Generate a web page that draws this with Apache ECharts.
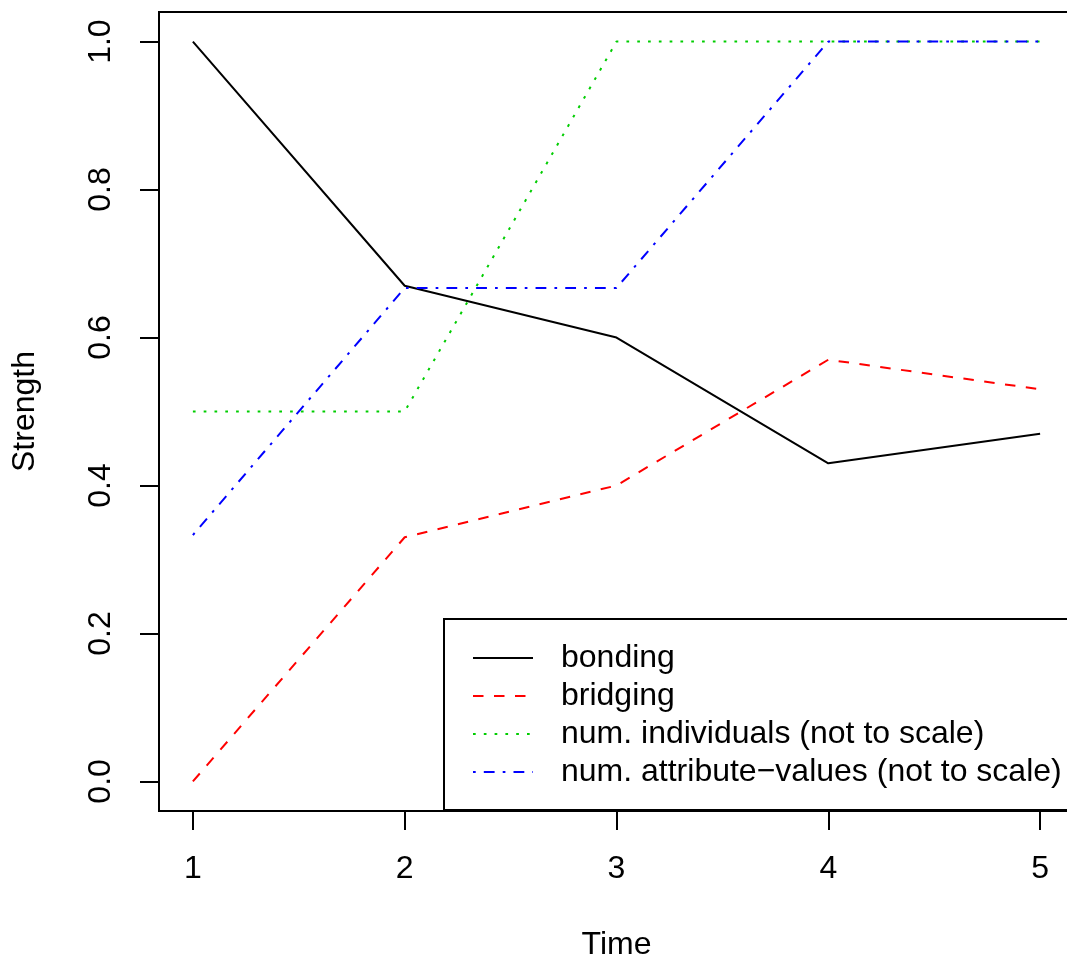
<!DOCTYPE html>
<html>
<head>
<meta charset="utf-8">
<script src="https://cdn.jsdelivr.net/npm/echarts@6/dist/echarts.min.js"></script>
<style>
html,body{margin:0;padding:0;background:#fff;overflow:hidden;}
#c{width:1067px;height:960px;}
</style>
</head>
<body>
<div id="c"></div>
<script>
var times = [1, 2, 3, 4, 5];
var bonding = [1.0, 0.67, 0.60, 0.43, 0.47];
var bridging = [0.0, 0.33, 0.40, 0.57, 0.53];
var numIndividuals = [0.5, 0.5, 1.0, 1.0, 1.0];
var numAttributeValues = [0.333, 0.667, 0.667, 1.0, 1.0];
var xTicks = [1, 2, 3, 4, 5];
var yTicks = [0, 0.2, 0.4, 0.6, 0.8, 1.0];
var seriesNames = ['bonding', 'bridging', 'num. individuals (not to scale)', 'num. attribute\u2212values (not to scale)'];

function pairs(ys) { return times.map(function (t, i) { return [t, ys[i]]; }); }

var FONT = "'Liberation Sans', Arial, Helvetica, sans-serif";
var FS = 32;
var chart = echarts.init(document.getElementById('c'), null, {renderer: 'canvas'});

function mkSeries(name, data, color, dash) {
  return {
    name: name, type: 'line', data: pairs(data), symbol: 'none', animation: false, z: 3,
    lineStyle: {color: color, width: 2, type: dash, cap: 'butt', join: 'round'},
    itemStyle: {color: color},
    emphasis: {disabled: true}
  };
}

chart.setOption({
  animation: false,
  grid: {left: 159, top: 12, width: 915, height: 799, show: true, borderColor: '#000', borderWidth: 2,
    containLabel: false, outerBoundsMode: 'none'},
  xAxis: [{
    type: 'value', min: 0.84, max: 5.16,
    name: 'Time', nameLocation: 'middle', nameGap: 118,
    nameTextStyle: {fontSize: FS, color: '#000', fontFamily: FONT},
    axisLine: {show: false, onZero: false},
    splitLine: {show: false},
    axisTick: {show: true, customValues: xTicks, length: 19, lineStyle: {color: '#000', width: 2}},
    axisLabel: {customValues: xTicks, margin: 42, fontSize: FS, color: '#000', fontFamily: FONT}
  }],
  yAxis: [{
    type: 'value', min: -0.04, max: 1.04,
    name: 'Strength', nameLocation: 'middle', nameGap: 118,
    nameTextStyle: {fontSize: FS, color: '#000', fontFamily: FONT},
    axisLine: {show: false, onZero: false},
    splitLine: {show: false},
    axisTick: {show: true, customValues: yTicks, length: 19, lineStyle: {color: '#000000', width: 2, opacity: 1}},
    axisLabel: {customValues: yTicks, margin: 42, rotate: 90, fontSize: FS, color: '#000', fontFamily: FONT,
      formatter: function (v) { return Number(v).toFixed(1); }}
  }],
  legend: {
    orient: 'vertical', left: 444, top: 619,
    data: seriesNames,
    backgroundColor: '#fff',
    borderColor: '#000', borderWidth: 2,
    padding: [20, 17, 19, 28],
    itemWidth: 60, itemHeight: 38, itemGap: 0,
    selectedMode: false,
    itemStyle: {opacity: 0},
    textStyle: {fontSize: FS, color: '#000', fontFamily: FONT, lineHeight: 38, padding: [0, 0, 0, 23]}
  },
  series: [
    mkSeries(seriesNames[0], bonding, '#000000', 'solid'),
    mkSeries(seriesNames[1], bridging, '#FF0000', [10.5, 10.5]),
    mkSeries(seriesNames[2], numIndividuals, '#00CD00', [2.7, 8.1]),
    mkSeries(seriesNames[3], numAttributeValues, '#0000FF', [2.7, 8.1, 10.8, 8.1])
  ]
});
</script>
</body>
</html>
